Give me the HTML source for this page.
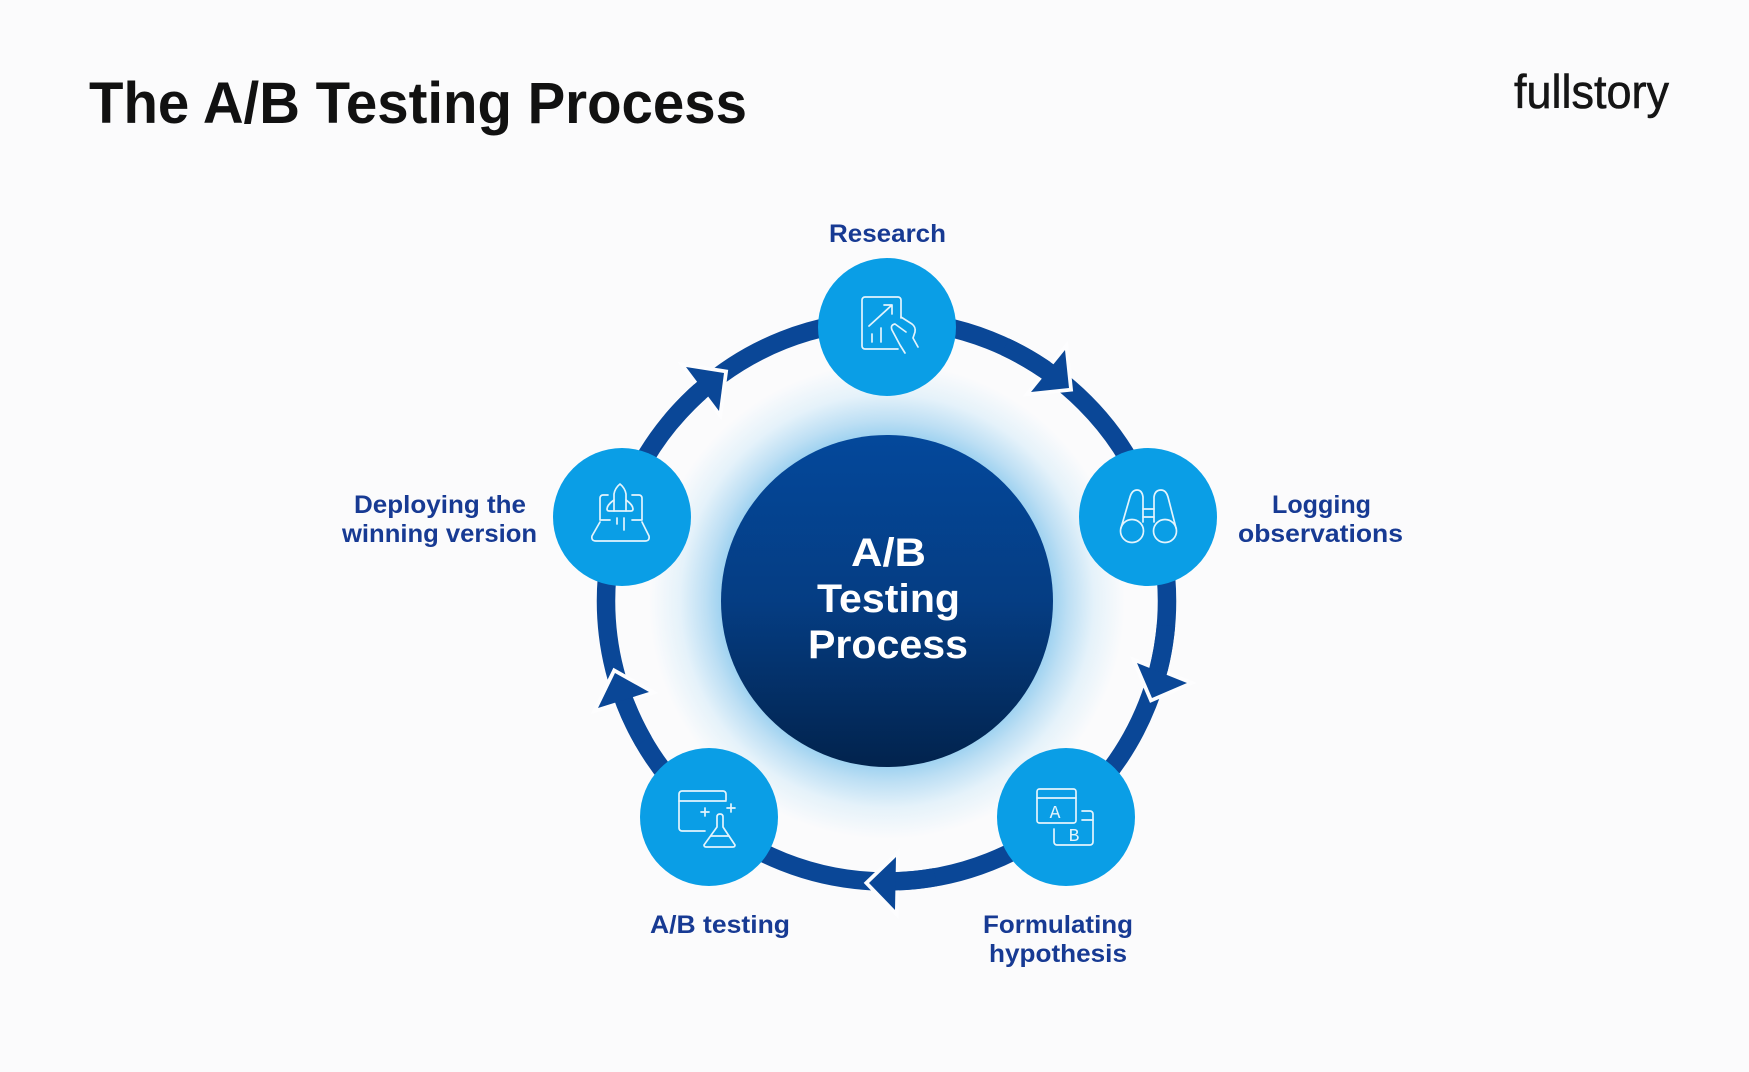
<!DOCTYPE html>
<html lang="en">
<head>
<meta charset="utf-8">
<title>The A/B Testing Process</title>
<style>
html,body{margin:0;padding:0;background:#fbfbfc;width:1749px;height:1072px;overflow:hidden}
svg{display:block}
text{font-family:"Liberation Sans",sans-serif}
.l{font-size:25px;font-weight:700;fill:#173a93}
.c{font-size:40px;font-weight:700;fill:#fff}
.i{fill:none;stroke:#e3f4fd;stroke-width:1.7;stroke-linecap:round;stroke-linejoin:round}
.n{fill:#0a9ee6}
.h{fill:#fdfdfe;stroke:#fdfdfe;stroke-width:7.5;stroke-linejoin:miter}
.a{fill:#0a4797}
.s{fill:none;stroke:#0a4797;stroke-width:18.5}
</style>
</head>
<body>
<svg width="1749" height="1072" viewBox="0 0 1749 1072" xmlns="http://www.w3.org/2000/svg">
<defs>
<radialGradient id="g" gradientUnits="userSpaceOnUse" cx="887" cy="601" r="238">
<stop offset="0.67" stop-color="#93cdef"/>
<stop offset="0.76" stop-color="#bddff4"/>
<stop offset="0.87" stop-color="#e5f2fa"/>
<stop offset="1" stop-color="#fbfbfc"/>
</radialGradient>
<linearGradient id="b" x1="0" y1="0" x2="0" y2="1">
<stop offset="0" stop-color="#04489b"/>
<stop offset="0.5" stop-color="#053d83"/>
<stop offset="1" stop-color="#02234d"/>
</linearGradient>
</defs>
<rect width="1749" height="1072" fill="#fbfbfc"/>

<text x="89" y="123" font-size="58" font-weight="700" fill="#111" textLength="658" lengthAdjust="spacingAndGlyphs">The A/B Testing Process</text>
<text x="1514" y="108" font-size="47" fill="#151515" stroke="#151515" stroke-width="0.6" textLength="155" lengthAdjust="spacingAndGlyphs">fullstory</text>

<circle cx="887" cy="601" r="238" fill="url(#g)"/>
<circle cx="886.5" cy="601" r="280.5" fill="none" stroke="#0a4797" stroke-width="18.5"/>

<!-- halos cut the ring in front of each arrow tip -->
<polygon class="h" points="1065,350 1031,392 1069,388"/>
<polygon class="h" points="1137,663 1187,683 1152,698"/>
<polygon class="h" points="896,857 895,910 869,883"/>
<polygon class="h" points="598,708 649,692 615,673"/>
<polygon class="h" points="686,367 719,411 724,373"/>

<!-- shafts re-joined to the arrowheads -->
<path class="s" d="M1005 346.8A280.5 280.5 0 0 1 1055.3 377"/>
<path class="s" d="M1165.9 625.4A280.5 280.5 0 0 1 1154.7 683"/>
<path class="s" d="M935.2 877.2A280.5 280.5 0 0 1 886.5 881.5"/>
<path class="s" d="M643.6 741.3A280.5 280.5 0 0 1 619.7 687.7"/>
<path class="s" d="M671.6 420.7A280.5 280.5 0 0 1 713.8 380"/>

<polygon class="a" points="1065,350 1031,392 1069,388"/>
<polygon class="a" points="1137,663 1187,683 1152,698"/>
<polygon class="a" points="896,857 895,910 869,883"/>
<polygon class="a" points="598,708 649,692 615,673"/>
<polygon class="a" points="686,367 719,411 724,373"/>

<circle cx="887" cy="601" r="166" fill="url(#b)"/>
<circle class="n" cx="887" cy="327" r="69"/>
<circle class="n" cx="1148" cy="517" r="69"/>
<circle class="n" cx="1066" cy="817" r="69"/>
<circle class="n" cx="709" cy="817" r="69"/>
<circle class="n" cx="622" cy="517" r="69"/>

<text class="c" x="851" y="566" textLength="75" lengthAdjust="spacingAndGlyphs">A/B</text>
<text class="c" x="817" y="612" textLength="143" lengthAdjust="spacingAndGlyphs">Testing</text>
<text class="c" x="808" y="658" textLength="160" lengthAdjust="spacingAndGlyphs">Process</text>

<text class="l" x="829" y="242" textLength="117" lengthAdjust="spacingAndGlyphs">Research</text>
<text class="l" x="1272" y="513" textLength="99" lengthAdjust="spacingAndGlyphs">Logging</text>
<text class="l" x="1238" y="542" textLength="165" lengthAdjust="spacingAndGlyphs">observations</text>
<text class="l" x="983" y="933" textLength="150" lengthAdjust="spacingAndGlyphs">Formulating</text>
<text class="l" x="989" y="962" textLength="138" lengthAdjust="spacingAndGlyphs">hypothesis</text>
<text class="l" x="650" y="933" textLength="140" lengthAdjust="spacingAndGlyphs">A/B testing</text>
<text class="l" x="354" y="513" textLength="172" lengthAdjust="spacingAndGlyphs">Deploying the</text>
<text class="l" x="342" y="542" textLength="195" lengthAdjust="spacingAndGlyphs">winning version</text>

<!-- Research icon -->
<g class="i">
<path d="M901 318V300a3 3 0 0 0-3-3H865a3 3 0 0 0-3 3V346a3 3 0 0 0 3 3H898"/>
<path d="M869 326L892 305M884 305H892V314"/>
<path d="M872 334V342M881 328V342"/>
<path d="M901 317L912 324Q916 327 915 332L913 338L918 347"/>
<path d="M906 332L895 324Q890 325 892 330L900 345L905 353"/>
</g>
<!-- Binoculars icon -->
<g class="i">
<circle cx="1132" cy="531" r="11.5"/>
<circle cx="1165" cy="531" r="11.5"/>
<path d="M1121 528L1130 497Q1132 490 1137 490Q1142 490 1143 497V522"/>
<path d="M1154 522V497Q1155 490 1161 490Q1166 490 1168 497L1176 528"/>
<path d="M1143 509H1154M1143 517H1154"/>
</g>
<!-- A/B icon -->
<g class="i">
<rect x="1037" y="789" width="39" height="34" rx="2.5"/>
<path d="M1037 798H1076"/>
<path d="M1082 811H1090a3 3 0 0 1 3 3V842a3 3 0 0 1-3 3H1057a3 3 0 0 1-3-3V829"/>
<path d="M1082 820H1093"/>
</g>
<text x="1055" y="818" font-size="18" text-anchor="middle" fill="#e3f4fd" style='font-family:"Liberation Mono",monospace'>A</text>
<text x="1074" y="841" font-size="18" text-anchor="middle" fill="#e3f4fd" style='font-family:"Liberation Mono",monospace'>B</text>
<!-- Flask icon -->
<g class="i">
<path d="M726 800V794a3 3 0 0 0-3-3H682a3 3 0 0 0-3 3V828a3 3 0 0 0 3 3H705"/>
<path d="M679 801H726"/>
<path d="M701 812H709M705 808V816M727 808H735M731 804V812"/>
<path d="M717 827V817Q717 814 720 814Q723 814 723 817V827L735 845Q735 847 733 847H706Q704 847 704 845Z"/>
<path d="M711 836H729"/>
</g>
<!-- Rocket icon -->
<g class="i">
<path d="M614 511V494Q615 488 620 484Q625 488 626 494V511"/>
<path d="M614 500Q607 505 607 509Q607 511 609 511H631Q633 511 633 509Q633 505 626 500"/>
<path d="M608 495H603a3 3 0 0 0-3 3V520H610"/>
<path d="M632 495H639a3 3 0 0 1 3 3V520H632"/>
<path d="M600 522L592 536Q591 541 596 541H645Q650 541 649 536L642 522"/>
<path d="M617 518V524M624 518V530"/>
</g>
</svg>
</body>
</html>
